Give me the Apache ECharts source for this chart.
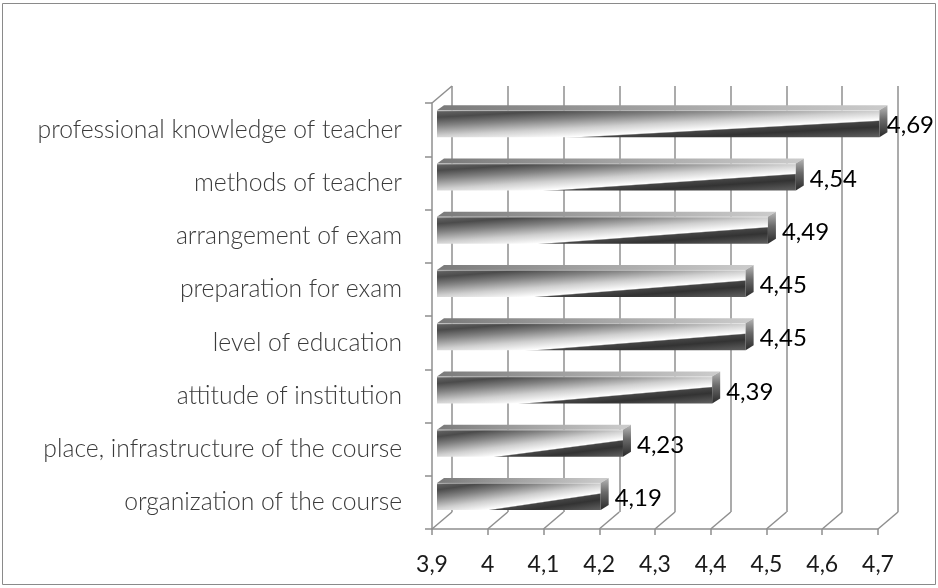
<!DOCTYPE html>
<html>
<head>
<meta charset="utf-8">
<script src="https://cdn.jsdelivr.net/npm/echarts@6/dist/echarts.min.js"></script>
<style>
  html, body { margin: 0; padding: 0; background: #fff; }
  #chart { width: 938px; height: 588px; }
</style>
</head>
<body>
<div id="chart"></div>
<script>
const categories = [
  'organization of the course',
  'place, infrastructure of the course',
  'attitude of institution',
  'level of education',
  'preparation for exam',
  'arrangement of exam',
  'methods of teacher',
  'professional knowledge of teacher'
];
const scores = [4.19, 4.23, 4.39, 4.45, 4.45, 4.49, 4.54, 4.69];
const xTicks = [3.9, 4.0, 4.1, 4.2, 4.3, 4.4, 4.5, 4.6, 4.7];

const AXIS_MIN = 3.9;
const AXIS_MAX = 4.7;
const DEPTH_X = 20;   // wall depth offset
const DEPTH_Y = -17;
const GRID_COLOR = '#8f8f8f';
const VALUE_FONT = '24px Lato';

const fmt = v => String(Math.round(v * 10) / 10).replace('.', ',');
const fmtVal = v => v.toFixed(2).replace('.', ',');

const measureCtx = document.createElement('canvas').getContext('2d');
function textWidth(str, font) {
  measureCtx.font = font;
  return measureCtx.measureText(str).width;
}

const chart = echarts.init(document.getElementById('chart'));

// 3D-looking bar: front face, top face, end face + value label
function renderBar(params, api) {
  const idx = api.value(1);
  const val = api.value(0);
  const c0 = api.coord([AXIS_MIN, idx]);
  const c1 = api.coord([val, idx]);
  const x0 = c0[0] + 5;
  const x1 = c1[0] + 7;
  const yT = c0[1] - 19.5;
  const yB = c0[1] + 7.5;
  const W = x1 - x0, H = yB - yT;

  // tilted gradient so the light/dark edge runs diagonally
  let nx = 0.63 * H, ny = 0.7 * W;
  const nl = Math.hypot(nx, ny);
  nx /= nl; ny /= nl;
  const len = W * nx + H * ny;
  const tl = (0.3 * W * nx + H * ny) / len;
  const front = new echarts.graphic.LinearGradient(
    x0, yT, x0 + nx * len, yT + ny * len,
    [
      { offset: 0, color: '#8a8a8a' },
      { offset: 0.05, color: '#5e5e5e' },
      { offset: 0.14, color: '#4b4b4b' },
      { offset: 0.3, color: '#828282' },
      { offset: tl - 0.17, color: '#cfcfcf' },
      { offset: tl - 0.03, color: '#f6f6f6' },
      { offset: tl, color: '#ffffff' },
      { offset: tl + 0.025, color: '#454545' },
      { offset: tl + 0.13, color: '#333333' },
      { offset: 1, color: '#606060' }
    ],
    true
  );
  const top = new echarts.graphic.LinearGradient(x0, 0, x1, 0, [
    { offset: 0, color: '#7a7a7a' },
    { offset: 0.5, color: '#a3a3a3' },
    { offset: 1, color: '#cacaca' }
  ], true);
  const side = new echarts.graphic.LinearGradient(0, yT - 5, 0, yB, [
    { offset: 0, color: '#b8b8b8' },
    { offset: 0.45, color: '#6a6a6a' },
    { offset: 1, color: '#2a2a2a' }
  ], true);

  const label = fmtVal(val);
  const lw = textWidth(label, VALUE_FONT);
  const lx = Math.min(x1 + 14, 934 - lw);

  return {
    type: 'group',
    children: [
      {
        type: 'polygon',
        shape: { points: [[x0, yT], [x1, yT], [x1 + 8, yT - 5], [x0 + 7, yT - 5]] },
        style: { fill: top }
      },
      {
        type: 'rect',
        shape: { x: x0, y: yT, width: W, height: H },
        style: { fill: front }
      },
      {
        type: 'line',
        shape: { x1: x0, y1: yT + 0.5, x2: x1, y2: yT + 0.5 },
        style: { stroke: 'rgba(255,255,255,0.45)', lineWidth: 1 }
      },
      {
        type: 'polygon',
        shape: { points: [[x1, yT], [x1 + 8, yT - 5], [x1 + 8, yB - 5], [x1, yB]] },
        style: { fill: side }
      },
      {
        type: 'text',
        x: lx,
        y: (yT + yB) / 2 + 2,
        z2: 10,
        style: {
          text: label,
          fill: '#000',
          font: VALUE_FONT,
          align: 'left',
          verticalAlign: 'middle'
        }
      }
    ]
  };
}

// floor diagonals from each front tick back to the wall
function renderFloor(params, api) {
  const v = api.value(0);
  const cs = params.coordSys;
  const x = api.coord([v, 0])[0];
  const yb = cs.y + cs.height;
  const children = [{
    type: 'line',
    shape: { x1: x, y1: yb, x2: x + DEPTH_X, y2: yb + DEPTH_Y },
    style: { stroke: GRID_COLOR, lineWidth: 1.5 }
  }];
  if (params.dataIndex === 0) {
    children.push({
      type: 'line',
      shape: { x1: x, y1: cs.y, x2: x + DEPTH_X, y2: cs.y + DEPTH_Y },
      style: { stroke: GRID_COLOR, lineWidth: 1.5 }
    });
  }
  return { type: 'group', children };
}

const option = {
  animation: false,
  backgroundColor: '#fff',
  graphic: [{
    type: 'rect',
    shape: { x: 2.5, y: 3.5, width: 933, height: 581 },
    style: { fill: 'none', stroke: '#8a8a8a', lineWidth: 1 },
    silent: true
  }],
  grid: [
    { left: 432, right: 60, top: 103, bottom: 59 },
    { left: 432 + DEPTH_X, right: 60 - DEPTH_X, top: 103 + DEPTH_Y, bottom: 59 - DEPTH_Y }
  ],
  xAxis: [
    {
      type: 'value', gridIndex: 0,
      min: AXIS_MIN, max: AXIS_MAX, interval: 0.1,
      axisLine: { show: true, lineStyle: { color: GRID_COLOR, width: 1.5 } },
      axisTick: { show: true, length: 6, lineStyle: { color: GRID_COLOR, width: 1.5 } },
      axisLabel: {
        margin: 24,
        color: '#1a1a1a',
        fontFamily: 'Lato',
        fontSize: 23,
        formatter: fmt
      },
      splitLine: { show: false }
    },
    {
      type: 'value', gridIndex: 1,
      min: AXIS_MIN, max: AXIS_MAX, interval: 0.1,
      axisLine: { show: false },
      axisTick: { show: false },
      axisLabel: { show: false },
      splitLine: { show: true, lineStyle: { color: GRID_COLOR, width: 1.5 } }
    }
  ],
  yAxis: [
    {
      type: 'category', gridIndex: 0,
      data: categories,
      axisLine: { show: true, lineStyle: { color: GRID_COLOR, width: 1.5 } },
      axisTick: { show: true, length: 7, lineStyle: { color: GRID_COLOR, width: 1.5 } },
      axisLabel: {
        margin: 30,
        color: '#3a3a3a',
        fontFamily: 'Lato',
        fontWeight: 300,
        fontSize: 24.7
      }
    },
    {
      type: 'category', gridIndex: 1,
      data: categories,
      show: false
    }
  ],
  series: [
    {
      type: 'custom',
      name: 'floor',
      xAxisIndex: 0, yAxisIndex: 0,
      clip: false,
      silent: true,
      renderItem: renderFloor,
      data: xTicks.map(v => [v, 0]),
      z: 1
    },
    {
      type: 'custom',
      name: 'score',
      xAxisIndex: 0, yAxisIndex: 0,
      clip: false,
      renderItem: renderBar,
      data: scores.map((v, i) => [v, i]),
      z: 5
    }
  ]
};

chart.setOption(option);
</script>
</body>
</html>
